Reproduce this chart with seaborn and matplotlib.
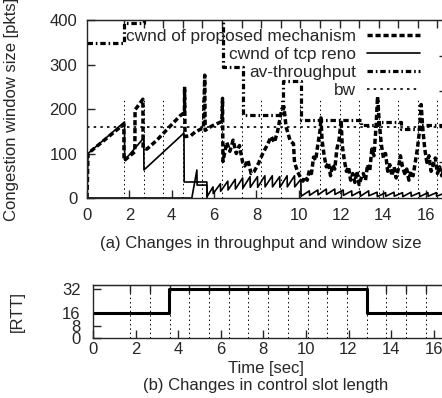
import matplotlib
matplotlib.use("Agg")
import matplotlib.pyplot as plt
import seaborn as sns

# control slot boundaries (dotted vertical lines / top ticks)
slot_edges = [1.75, 2.68, 3.6, 4.53, 5.45, 6.38, 7.3, 8.23, 9.15, 10.08,
              11.0, 11.93, 12.85, 13.78, 14.7, 15.63, 16.55]

# cwnd of proposed mechanism
prop_t = [0, 0.05, 1.74, 1.75, 2.26, 2.27, 2.64, 2.65, 2.83, 3.3, 3.8, 4.4,
          4.6, 4.61, 4.63, 4.9, 5.1, 5.5, 5.56, 5.58, 5.9, 6.37, 6.4, 6.42,
          6.6, 6.75, 6.9, 7.05, 7.2, 7.35, 7.45, 7.6, 7.75, 7.9, 8.1, 8.3,
          8.5, 8.7, 8.85, 9.0, 9.2, 9.3, 9.4, 9.6, 9.75, 9.8, 9.95, 10.1,
          10.2, 10.3, 10.4, 10.5, 10.6, 10.7, 10.8, 10.9, 11.0, 11.05, 11.1,
          11.2, 11.3, 11.4, 11.5, 11.6, 11.7, 11.8, 11.9, 12.0, 12.05, 12.15,
          12.25, 12.35, 12.45, 12.55, 12.65, 12.75, 12.85, 12.95, 13.05,
          13.15, 13.25, 13.35, 13.45, 13.55, 13.65, 13.72, 13.8, 13.9, 14.0,
          14.1, 14.2, 14.3, 14.4, 14.5, 14.6, 14.7, 14.8, 14.9, 15.0, 15.1,
          15.2, 15.3, 15.4, 15.5, 15.6, 15.7, 15.78, 15.85, 15.95, 16.05,
          16.15, 16.25, 16.35, 16.45, 16.55, 16.65, 16.75, 16.85, 17.0]
prop_v = [0, 100, 166, 84, 104, 198, 222, 112, 110, 130, 155, 185,
          192, 250, 138, 140, 148, 158, 276, 152, 162, 172, 224, 82,
          125, 105, 130, 100, 118, 80, 72, 85, 55, 60, 78, 100,
          118, 138, 125, 150, 200, 205, 160, 128, 122, 80, 58, 45,
          38, 48, 40, 62, 55, 92, 85, 120, 150, 180, 130,
          95, 70, 80, 50, 75, 65, 110, 130, 175, 120, 85,
          60, 70, 40, 55, 35, 60, 30, 45, 55,
          40, 75, 60, 110, 95, 160, 228, 170, 120, 90,
          100, 60, 75, 50, 70, 45, 65, 95, 70, 55, 65,
          40, 60, 50, 80, 110, 150, 210, 160, 110, 80,
          95, 60, 75, 90, 55, 70, 50, 65, 60]

# cwnd of tcp reno
reno_t = [0, 0.05, 1.77, 1.78, 2.68, 2.69, 4.58, 4.59, 5.66, 5.67, 5.95, 5.96,
          6.3, 6.31, 6.65, 6.66, 7.0, 7.01, 7.35, 7.36, 7.7, 7.71, 8.05, 8.06,
          8.4, 8.41, 8.75, 8.76, 9.1, 9.11, 9.45, 9.46, 9.8, 9.81, 10.1, 10.11,
          10.5, 10.51, 10.9, 10.91, 11.3, 11.31, 11.7, 11.71, 12.1, 12.11,
          12.5, 12.51, 12.9, 12.91, 13.3, 13.31, 13.7, 13.71, 14.1, 14.11,
          14.5, 14.51, 14.9, 14.91, 15.3, 15.31, 15.7, 15.71, 16.1, 16.11,
          16.5, 16.51, 17.0]
reno_v = [0, 100, 171, 85, 135, 63, 146, 36, 36, 3, 25, 10,
          32, 15, 38, 18, 42, 20, 45, 22, 48, 24, 48, 24,
          50, 25, 50, 25, 48, 24, 50, 25, 50, 25, 42, 4,
          16, 6, 18, 7, 20, 8, 20, 8, 18, 6,
          16, 5, 15, 4, 16, 5, 13, 3, 12, 4,
          13, 4, 12, 3, 13, 4, 12, 3, 12, 4,
          12, 4, 13]
reno2_t = [0, 4.95, 5.19, 5.2, 5.66, 5.67]
reno2_v = [0, 0, 63, 29, 29, 0]

# average throughput (step)
avt_t = [0, 1.75, 2.68, 6.42, 7.36, 9.25, 10.1, 12.93, 13.73, 14.82, 15.7, 17.0]
avt_v = [348, 393, 430, 294, 187, 263, 175, 164, 171, 155, 165, 165]

bw = 160

# control slot length [RTT]
rtt_t = [0, 3.58, 12.85, 17.0]
rtt_v = [16, 32, 16, 16]

sns.set_style("ticks")
plt.rcParams['font.family'] = ['Liberation Sans', 'DejaVu Sans']
plt.rcParams['font.size'] = 12

fig = plt.figure(figsize=(4.42, 3.98), dpi=100)
ax = fig.add_axes([0.1968, 0.5025, 0.8145, 0.4472])
axb = fig.add_axes([0.2104, 0.1508, 0.819, 0.1332])

# ---- (a) throughput and window size
ax.vlines(slot_edges, 0, 225, colors="black", linestyles=(0, (1.5, 3)), lw=0.7)
l_bw = ax.axhline(bw, color="black", lw=1.2, linestyle=(0, (1.5, 2.5)), label="bw")

sns.lineplot(x=reno2_t, y=reno2_v, ax=ax, color="black", lw=1.2,
             estimator=None, sort=False)
sns.lineplot(x=reno_t, y=reno_v, ax=ax, color="black", lw=1.2,
             estimator=None, sort=False)
l_reno = ax.lines[-1]
sns.lineplot(x=prop_t, y=prop_v, ax=ax, color="black", lw=2.5,
             estimator=None, sort=False)
l_prop = ax.lines[-1]
l_prop.set_dashes([1.5, 0.8])
sns.lineplot(x=avt_t, y=avt_v, ax=ax, color="black", lw=2.3,
             estimator=None, sort=False, drawstyle="steps-post")
l_avt = ax.lines[-1]
l_avt.set_dashes([1.7, 0.9, 0.5, 0.9])

ax.set_xlim(0, 17)
ax.set_ylim(0, 400)
ax.set_xticks(range(0, 17, 2))
ax.set_yticks([0, 100, 200, 300, 400])
ax.tick_params(direction="in", length=6, width=1, pad=7, labelsize=12)
for s in ax.spines.values():
    s.set_linewidth(1.0)
top = ax.secondary_xaxis("top")
top.set_xticks(slot_edges, labels=[])
top.tick_params(direction="in", length=6, width=1)
right = ax.secondary_yaxis("right")
right.set_yticks([80, 160, 240, 320], labels=[])
right.tick_params(direction="in", length=6, width=1)

ax.set_ylabel("Congestion window size [pkts]", fontsize=12)
ax.yaxis.set_label_coords(-0.19, 0.5)
ax.set_xlabel("(a) Changes in throughput and window size", fontsize=12)
ax.xaxis.set_label_coords(0.483, -0.215)

leg = ax.legend([l_prop, l_reno, l_avt, l_bw],
                ["cwnd of proposed mechanism", "cwnd of tcp reno",
                 "av-throughput", "bw"],
                loc="upper right", bbox_to_anchor=(0.925, 0.95),
                markerfirst=False, frameon=False, fontsize=12.4,
                handlelength=3.1, handletextpad=0.6, labelspacing=0.17,
                borderpad=0, borderaxespad=0)

# ---- (b) control slot length
axb.vlines(slot_edges, 0, 32, colors="black", linestyles=(0, (1.5, 3)), lw=0.7)
sns.lineplot(x=rtt_t, y=rtt_v, ax=axb, color="black", lw=2.2,
             estimator=None, sort=False, drawstyle="steps-post")
axb.set_xlim(0, 17)
axb.set_ylim(0, 34.6)
axb.set_xticks(range(0, 17, 2))
axb.set_yticks([0, 8, 16, 32])
axb.tick_params(direction="in", length=6, width=1, labelsize=12)
axb.tick_params(axis="x", pad=3)
axb.tick_params(axis="y", pad=9)
for s in axb.spines.values():
    s.set_linewidth(1.0)
topb = axb.secondary_xaxis("top")
topb.set_xticks(slot_edges, labels=[])
topb.tick_params(direction="in", length=6, width=1)

axb.set_ylabel("[RTT]", fontsize=12)
axb.yaxis.set_label_coords(-0.188, 0.5)
axb.set_xlabel("Time [sec]\n(b) Changes in control slot length",
               fontsize=12, linespacing=1.2)
axb.xaxis.set_label_coords(0.478, -0.43)

fig.savefig("out.png", dpi=100)
